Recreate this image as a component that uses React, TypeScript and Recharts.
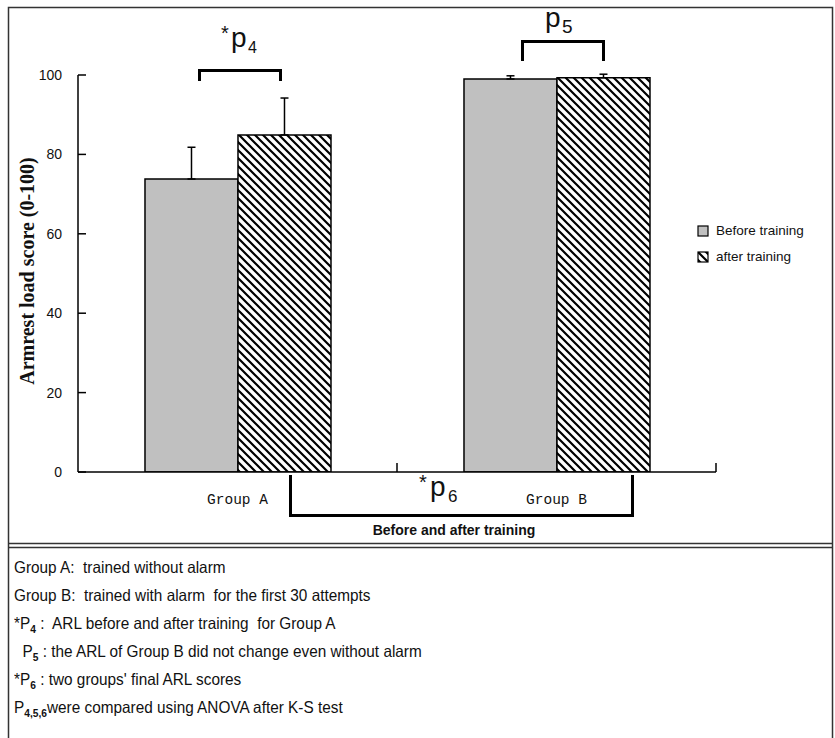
import React from 'react';
import { BarChart, Bar, XAxis, YAxis, ErrorBar, Legend } from 'recharts';

// values
const categories = ['Group A', 'Group B'];
const beforeScores = [73.8, 99.0];
const afterScores = [84.9, 99.3];
const beforeSd = [8.0, 0.8];
const afterSd = [9.3, 0.9];
const yTicks = [0, 20, 40, 60, 80, 100];
const seriesNames = ['Before training', 'after training'];

const notes = [
  { star: '', sub: '', text: 'Group A:  trained without alarm' },
  { star: '', sub: '', text: 'Group B:  trained with alarm  for the first 30 attempts' },
  { star: '*', sub: '4', text: ' :  ARL before and after training  for Group A' },
  { star: '\u00a0\u00a0', sub: '5', text: ' : the ARL of Group B did not change even without alarm' },
  { star: '*', sub: '6', text: ' : two groups\' final ARL scores' },
  { star: '', sub: '4,5,6', text: 'were compared using ANOVA after K-S test' },
];

const data = categories.map((group, i) => ({
  group,
  before: beforeScores[i],
  after: afterScores[i],
  beforeErr: [0, beforeSd[i]],
  afterErr: [0, afterSd[i]],
}));

const SANS = '"Liberation Sans", Arial, sans-serif';
const SERIF = '"Liberation Serif", "Times New Roman", serif';

function GroupTick(props: any) {
  const { x, y, payload } = props;
  const half = payload && payload.offset ? payload.offset : 159.5;
  return (
    <g>
      <line x1={x + half} x2={x + half} y1={y} y2={y - 9} stroke="#000" strokeWidth={1.5} />
      <text
        x={x}
        y={y + 32}
        textAnchor="middle"
        fontFamily='"Liberation Mono", "DejaVu Sans Mono", monospace'
        fontSize={14.5}
        fill="#111"
      >
        {payload.value}
      </text>
    </g>
  );
}

function LegendBox() {
  return (
    <div style={{ fontFamily: SANS, fontSize: 13.5, color: '#111', lineHeight: '26px' }}>
      <div style={{ display: 'flex', alignItems: 'center' }}>
        <svg width={12} height={12} style={{ marginRight: 7 }}>
          <rect x={1} y={1} width={10} height={10} fill="#c0c0c0" stroke="#000" strokeWidth={1.2} />
        </svg>
        {seriesNames[0]}
      </div>
      <div style={{ display: 'flex', alignItems: 'center' }}>
        <svg width={12} height={12} style={{ marginRight: 7 }}>
          <rect x={1} y={1} width={10} height={10} fill="url(#hatch)" stroke="#000" strokeWidth={1.2} />
        </svg>
        {seriesNames[1]}
      </div>
    </div>
  );
}

export default function App() {
  return (
    <div
      style={{
        position: 'absolute',
        left: 0,
        top: 0,
        width: 835,
        height: 738,
        background: '#fff',
        overflow: 'hidden',
      }}
    >
      <BarChart
        width={835}
        height={545}
        data={data}
        margin={{ top: 75, right: 119, bottom: 43, left: 8 }}
        barCategoryGap="21%"
        barGap={0}
      >
        <defs>
          <pattern id="hatch" patternUnits="userSpaceOnUse" width={8} height={8}>
            <rect width={8} height={8} fill="#fff" />
            <path d="M-2,-2 L10,10 M-2,6 L2,10 M6,-2 L10,2" stroke="#000" strokeWidth={2.2} />
          </pattern>
        </defs>
        <XAxis
          dataKey="group"
          height={30}
          tickSize={0}
          tickMargin={0}
          tickLine={false}
          axisLine={{ stroke: '#000', strokeWidth: 1.5 }}
          tick={<GroupTick />}
        />
        <YAxis
          width={70}
          domain={[0, 100]}
          ticks={yTicks}
          allowDataOverflow
          tickSize={-8}
          tickMargin={24}
          axisLine={{ stroke: '#000', strokeWidth: 1.5 }}
          tickLine={{ stroke: '#000', strokeWidth: 1.5 }}
          tick={{ fill: '#111', fontSize: 14, fontFamily: SANS }}
        />
        <Legend
          layout="vertical"
          align="center"
          verticalAlign="middle"
          wrapperStyle={{ left: 697, top: 218, width: 140 }}
          content={<LegendBox />}
        />
        <Bar dataKey="before" name={seriesNames[0]} fill="#c0c0c0" stroke="#000" strokeWidth={1.5} isAnimationActive={false}>
          <ErrorBar dataKey="beforeErr" width={4} stroke="#000" strokeWidth={1.5} isAnimationActive={false} />
        </Bar>
        <Bar dataKey="after" name={seriesNames[1]} fill="url(#hatch)" stroke="#000" strokeWidth={1.5} isAnimationActive={false}>
          <ErrorBar dataKey="afterErr" width={4} stroke="#000" strokeWidth={1.5} isAnimationActive={false} />
        </Bar>
      </BarChart>

      {/* frame, significance brackets and annotation text */}
      <svg
        width={835}
        height={738}
        style={{ position: 'absolute', left: 0, top: 0, pointerEvents: 'none' }}
      >
        <rect x={8.5} y={7.5} width={824} height={760} fill="none" stroke="#333" strokeWidth={1.5} />
        <line x1={8} x2={833} y1={543.5} y2={543.5} stroke="#333" strokeWidth={1.5} />
        <line x1={8} x2={833} y1={547.5} y2={547.5} stroke="#333" strokeWidth={1.5} />

        <text
          transform="translate(34,271) rotate(-90)"
          textAnchor="middle"
          fontFamily={SERIF}
          fontWeight="bold"
          fontSize={20}
          fill="#111"
        >
          Armrest load score (0-100)
        </text>

        <path d="M199.5,81 V70.5 H280.5 V81" fill="none" stroke="#000" strokeWidth={3} />
        <path d="M522.5,61 V41.5 H603.5 V61" fill="none" stroke="#000" strokeWidth={3} />
        <path d="M290.5,475 V515.5 H632.5 V475" fill="none" stroke="#000" strokeWidth={3} />

        <g fontFamily={SANS} fill="#111">
          <text x={221} y={40} fontSize={20}>*</text>
          <text x={231} y={47} fontSize={28}>p</text>
          <text x={248} y={53} fontSize={16}>4</text>

          <text x={545} y={27} fontSize={28}>p</text>
          <text x={562} y={33} fontSize={19}>5</text>

          <text x={419} y={489} fontSize={20}>*</text>
          <text x={430} y={496} fontSize={28}>p</text>
          <text x={448} y={502} fontSize={17}>6</text>

          <text x={454} y={535} textAnchor="middle" fontSize={14} fontWeight="bold">
            Before and after training
          </text>
        </g>
      </svg>

      <div
        style={{
          position: 'absolute',
          left: 14,
          top: 553,
          fontFamily: SANS,
          fontSize: 16.5,
          color: '#111',
          whiteSpace: 'pre',
          transform: 'scaleX(0.93)',
          transformOrigin: 'left top',
        }}
      >
        {notes.map((n, i) => (
          <div key={i} style={{ height: 28, lineHeight: '28px', overflow: 'visible' }}>
            {n.star}
            {n.sub ? 'P' : ''}
            {n.sub ? (
              <span
                style={{
                  fontSize: 11,
                  fontWeight: 'bold',
                  position: 'relative',
                  top: 4,
                  lineHeight: 0,
                }}
              >
                {n.sub}
              </span>
            ) : null}
            {n.text}
          </div>
        ))}
      </div>
    </div>
  );
}
